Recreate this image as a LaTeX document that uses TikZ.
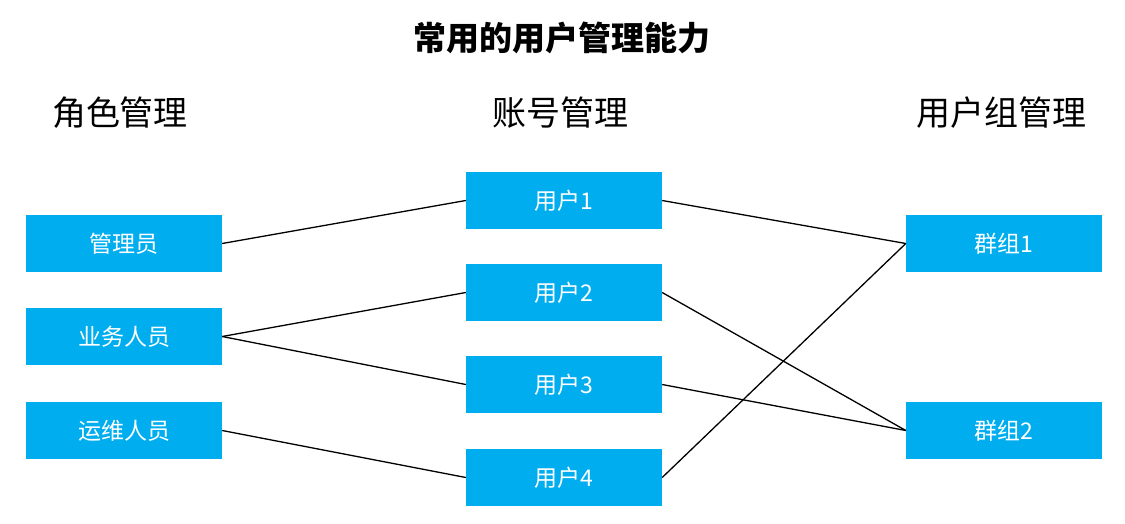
\documentclass[tikz,border=0pt]{standalone}
\usepackage{fontspec}
\setmainfont{Noto Sans CJK SC}
\usepackage{tikz}
\usetikzlibrary{positioning}
\definecolor{boxblue}{HTML}{00AEEF}
\tikzset{
  rolebox/.style={fill=boxblue, minimum width=196pt, minimum height=57pt, inner sep=0pt, text=white, font=\fontsize{23}{26}\selectfont},
  head/.style={font=\fontsize{34}{38}\selectfont},
  link/.style={line width=1.3pt, black}
}
\begin{document}
\begin{tikzpicture}[x=1pt, y=-1pt]
                \useasboundingbox (0,0) rectangle (1125,523);

                % Title and headers
                \node at (562,38) (title) {\fontsize{33}{36}\selectfont\bfseries 常用的用户管理能力};
                \node[head] at (120,113) (role) {角色管理};
                \node[head] at (560,113) (account) {账号管理};
                \node[head] at (1001,113) (group) {用户组管理};

                % Nodes
                \node[rolebox] at (124,243.5) (admin) {\raisebox{-2pt}{管理员}};
                \node[rolebox] at (124,336.5) (biz) {\raisebox{-2pt}{业务人员}};
                \node[rolebox] at (124,430.5) (ops) {\raisebox{-2pt}{运维人员}};
                \node[rolebox] at (564,200.5) (u1) {\raisebox{-2pt}{用户1}};
                \node[rolebox] at (564,292.5) (u2) {\raisebox{-2pt}{用户2}};
                \node[rolebox] at (564,384.5) (u3) {\raisebox{-2pt}{用户3}};
                \node[rolebox] at (564,477.5) (u4) {\raisebox{-2pt}{用户4}};
                \node[rolebox] at (1004,243.5) (g1) {\raisebox{-2pt}{群组1}};
                \node[rolebox] at (1004,430.5) (g2) {\raisebox{-2pt}{群组2}};

                % Lines
                \draw[link] (admin.east) -- (u1.west);
                \draw[link] (biz.east) -- (u2.west);
                \draw[link] (biz.east) -- (u3.west);
                \draw[link] (ops.east) -- (u4.west);
                \draw[link] (u1.east) -- (g1.west);
                \draw[link] (u2.east) -- (g2.west);
                \draw[link] (u3.east) -- (g2.west);
                \draw[link] (u4.east) -- (g1.west);

            \end{tikzpicture}
\end{document}
